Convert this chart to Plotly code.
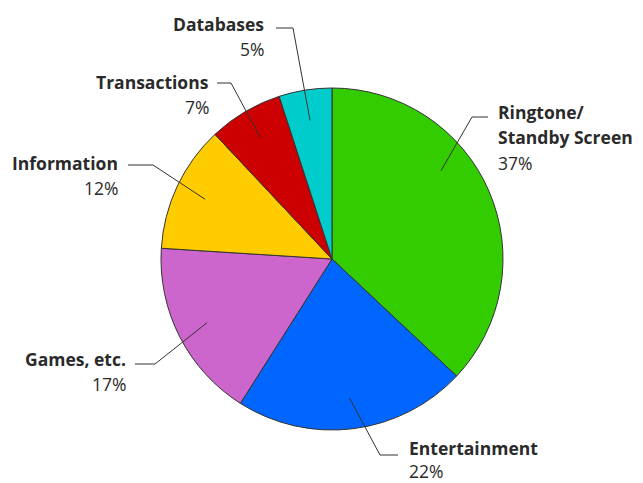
import math
import plotly.graph_objects as go

# ---- data ----
categories = ["Ringtone/<br>Standby Screen", "Entertainment", "Games, etc.",
              "Information", "Transactions", "Databases"]
shares = [37, 22, 17, 12, 7, 5]
colors = ["#33CC00", "#0066FF", "#CC66CC", "#FFCC00", "#CC0000", "#00CCCC"]

# ---- label layout (pixels in the 643x483 page) ----
W, H = 643, 483
CX, CY, R = 332, 259, 171
LINE_GAP = 25.5
# side, text x, first-line baseline y, elbow x, elbow y, horizontal end x, angle shift (deg)
label_layout = [
    ("left", 497, 118, 472, 117, 488, -15.6),
    ("left", 408, 454, 380, 455, 398, 0),
    ("right", 127, 365, 155, 364, 135, 0),
    ("right", 119, 169, 153, 165, 128, 0),
    ("right", 210, 88, 231, 83, 217, 0),
    ("right", 265, 30, 293, 28, 276, 0),
]

FS = 17.5
FONT = "Open Sans"
TEXT_COLOR = "#2a2a2a"


def px(x):
    return x / W


def py(y):
    return 1 - y / H


fig = go.Figure(go.Pie(
    labels=categories,
    values=shares,
    marker=dict(colors=colors, line=dict(color="#333333", width=1)),
    sort=False,
    direction="clockwise",
    rotation=0,
    textinfo="none",
    hoverinfo="label+percent",
    showlegend=False,
    domain=dict(x=[(CX - R) / W, (CX + R) / W], y=[1 - (CY + R) / H, 1 - (CY - R) / H]),
))

total = sum(shares)
annotations = []
shapes = []
cum = 0
for cat, val, lay in zip(categories, shares, label_layout):
    side, tx, base, ex, ey, hx, shift = lay
    mid = (cum + val / 2) / total * 360 + shift
    cum += val
    a = math.radians(mid)
    sx = CX + 0.82 * R * math.sin(a)
    sy = CY - 0.82 * R * math.cos(a)
    shapes.append(dict(type="path", xref="paper", yref="paper",
                       path=f"M {px(sx)} {py(sy)} L {px(ex)} {py(ey)} L {px(hx)} {py(ey)}",
                       line=dict(color="#333333", width=1)))
    lines = [f"<b>{p}</b>" for p in cat.split("<br>")] + [f"{val}%"]
    for i, t in enumerate(lines):
        b = base + i * LINE_GAP
        mid_y = min(b - 0.36 * FS, H - 12.5)
        annotations.append(dict(
            xref="paper", yref="paper",
            x=px(tx), y=py(mid_y),
            xanchor="left" if side == "left" else "right",
            yanchor="middle",
            borderpad=0,
            text=t,
            showarrow=False,
            font=dict(family=FONT, size=FS, color=TEXT_COLOR),
        ))

fig.update_layout(
    width=W, height=H,
    margin=dict(l=0, r=0, t=0, b=0),
    paper_bgcolor="white",
    plot_bgcolor="white",
    annotations=annotations,
    shapes=shapes,
)

fig.write_html("out.html")
